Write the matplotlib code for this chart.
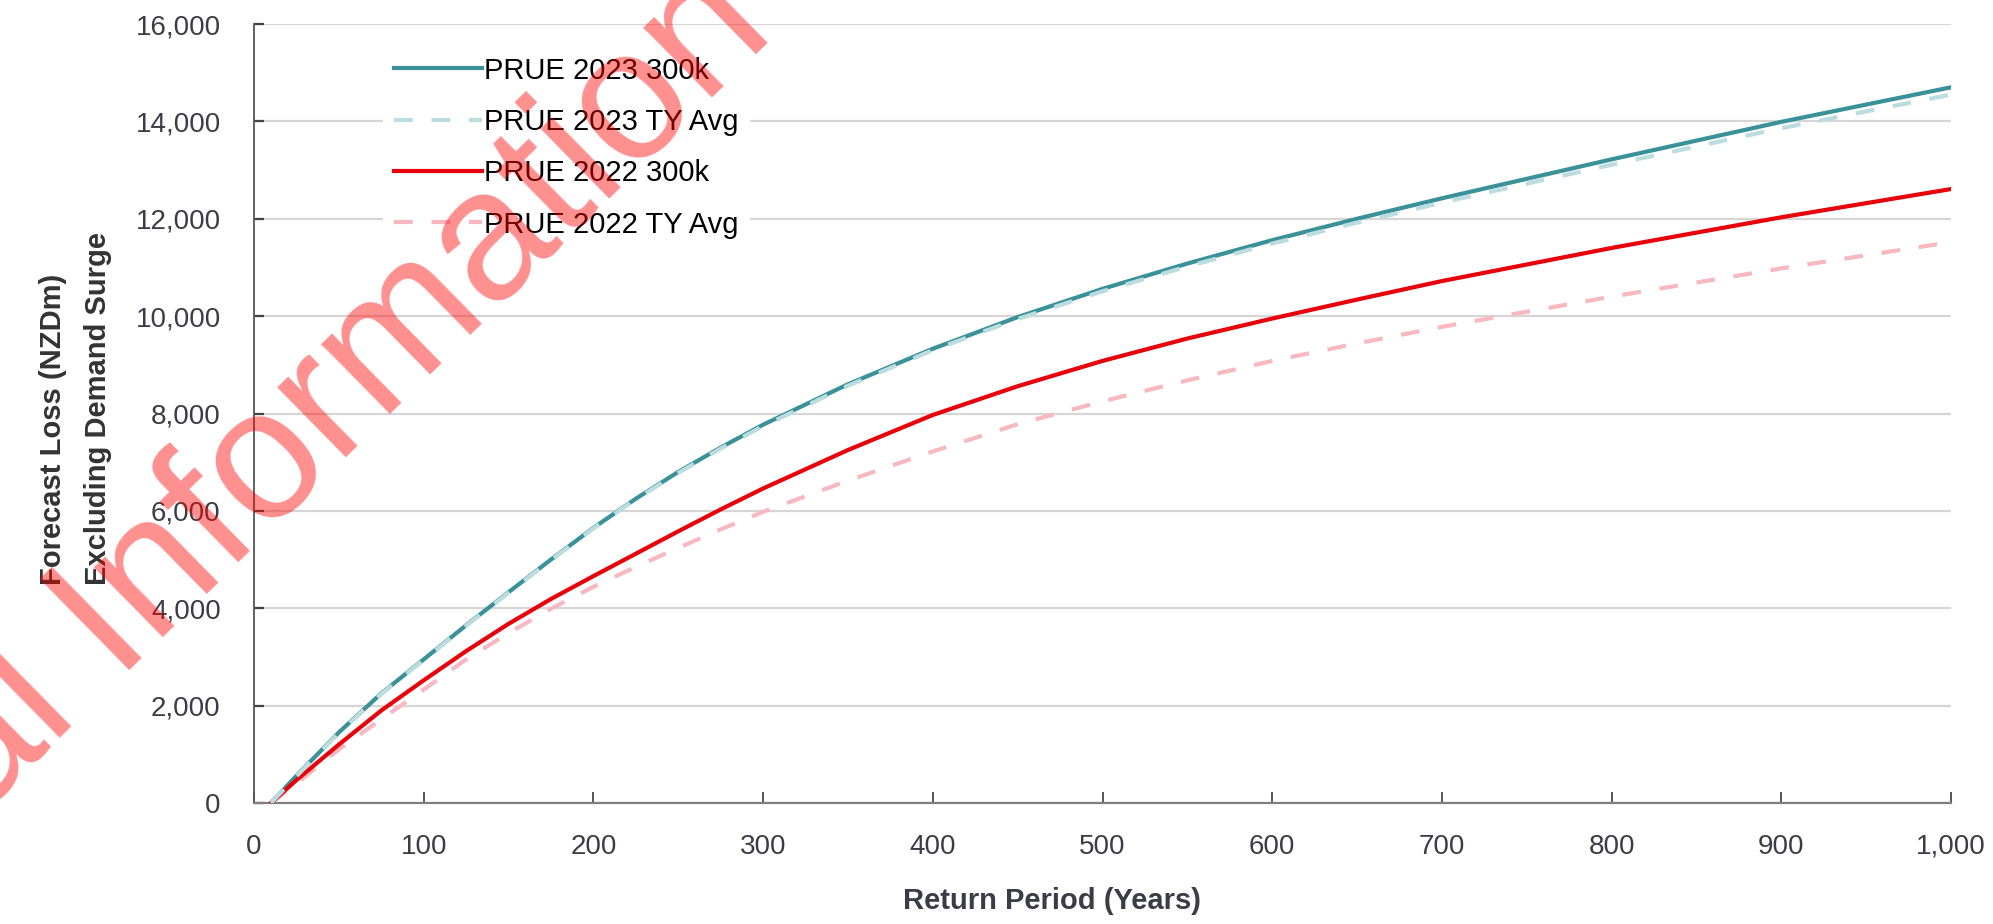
import matplotlib
matplotlib.use("Agg")
import matplotlib.pyplot as plt
from matplotlib.ticker import FuncFormatter

plt.rcParams['font.family'] = ['Liberation Sans', 'DejaVu Sans']

# return period (years)
years = [10, 25, 50, 75, 100, 125, 150, 175, 200, 225, 250, 275, 300, 350, 400, 450, 500,
         550, 600, 650, 700, 800, 900, 1000]

# forecast loss, NZDm
prue_2023_300k = [0, 560, 1450, 2250, 2950, 3650, 4330, 5000, 5650, 6250, 6800, 7300, 7770,
                  8600, 9330, 9980, 10560, 11080, 11560, 12000, 12420, 13220, 13990, 14700]
prue_2023_ty = [0, 550, 1440, 2240, 2940, 3640, 4320, 4990, 5640, 6240, 6780, 7280, 7740,
                8570, 9300, 9940, 10510, 11020, 11490, 11920, 12330, 13110, 13860, 14550]
prue_2022_300k = [0, 470, 1200, 1900, 2520, 3120, 3680, 4190, 4660, 5120, 5580, 6030, 6460,
                  7250, 7970, 8560, 9080, 9540, 9950, 10340, 10720, 11400, 12030, 12610]
prue_2022_ty = [0, 400, 1100, 1720, 2330, 2950, 3490, 3990, 4440, 4850, 5240, 5620, 5980,
                6620, 7220, 7780, 8250, 8680, 9080, 9440, 9780, 10400, 10980, 11520]

x_ticks = [0, 100, 200, 300, 400, 500, 600, 700, 800, 900, 1000]
y_ticks = [0, 2000, 4000, 6000, 8000, 10000, 12000, 14000, 16000]

W, H = 1993, 924
fig = plt.figure(figsize=(W / 100, H / 100), dpi=100)
ax = fig.add_axes([254 / W, 121 / H, 1697 / W, 779 / H])

ax.plot(years, prue_2023_300k, color='#3a9198', lw=3.0, label='PRUE 2023 300k', zorder=3)
ax.plot(years, prue_2023_ty, color='#bcdde0', lw=3.0, dashes=(4.5, 4.5), label='PRUE 2023 TY Avg', zorder=4)
ax.plot(years, prue_2022_300k, color='#e8000b', lw=3.0, label='PRUE 2022 300k', zorder=3)
ax.plot(years, prue_2022_ty, color='#f7b8c0', lw=3.0, dashes=(4.5, 4.5), label='PRUE 2022 TY Avg', zorder=2)

ax.set_xlim(0, 1000)
ax.set_ylim(0, 16000)
ax.set_xticks(x_ticks)
ax.set_yticks(y_ticks)
fmt = FuncFormatter(lambda v, p: f'{int(v):,}')
ax.xaxis.set_major_formatter(fmt)
ax.yaxis.set_major_formatter(fmt)

ax.grid(axis='y', color='#d6d6d6', lw=1.6, zorder=0)
ax.set_axisbelow(True)
for s in ['top', 'right']:
    ax.spines[s].set_visible(False)
ax.spines['left'].set_color('#555555')
ax.spines['left'].set_linewidth(1.3)
ax.spines['bottom'].set_color('#808080')
ax.spines['bottom'].set_linewidth(1.6)

ax.tick_params(axis='y', direction='in', length=7, width=1.6, color='#444444',
               labelsize=20, labelcolor='#3c3c46', pad=24)
ax.tick_params(axis='x', direction='in', length=8, width=1.4, color='#555555',
               labelsize=20, labelcolor='#3c3c46', pad=22)

ax.set_xlabel('Return Period (Years)', fontsize=21, fontweight='bold', color='#3c3c46')
ax.xaxis.set_label_coords((1052 - 254) / 1697, -0.108)

# two-line y title, both lines start at the same height
fig.text(53 / W, 1 - 585 / H, 'Forecast Loss (NZDm)', rotation=90, rotation_mode='anchor',
         ha='left', va='center', fontsize=21, fontweight='bold', color='#333333')
fig.text(98 / W, 1 - 585 / H, 'Excluding Demand Surge', rotation=90, rotation_mode='anchor',
         ha='left', va='center', fontsize=21, fontweight='bold', color='#333333')

leg = ax.legend(loc='upper left', bbox_to_anchor=((383 - 254) / 1697, 0.9725), borderaxespad=0,
                frameon=True, fontsize=21, handlelength=3.0, handletextpad=0.1,
                labelspacing=0.8, borderpad=0.38)
leg.get_frame().set_facecolor('white')
leg.get_frame().set_edgecolor('none')
leg.get_frame().set_alpha(1)

# watermark, runs off the canvas on both ends
fig.text(-21 / W, 1 - 819 / H, 'al Information', rotation=44.5, rotation_mode='anchor',
         ha='left', va='baseline', fontsize=133, color='red', alpha=0.44, zorder=10)

fig.savefig('out.png', dpi=100)
